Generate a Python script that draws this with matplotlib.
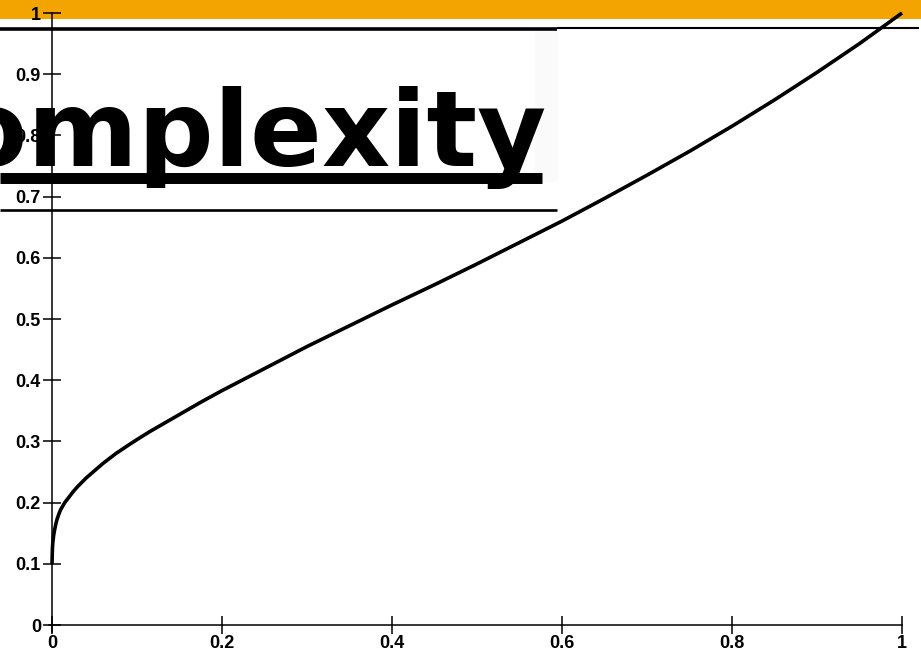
import matplotlib
matplotlib.use("Agg")
import matplotlib.pyplot as plt
from matplotlib.patches import Rectangle
from matplotlib.lines import Line2D

# Curve samples (x, y)
x_vals = [0.0, 0.0005, 0.001, 0.002, 0.003, 0.0045, 0.006, 0.008, 0.01, 0.0125,
          0.015, 0.02, 0.025, 0.03, 0.04, 0.05, 0.06, 0.075, 0.09, 0.1,
          0.115, 0.13, 0.15, 0.175, 0.2, 0.225, 0.25, 0.275, 0.3, 0.325,
          0.35, 0.375, 0.4, 0.45, 0.5, 0.55, 0.6, 0.65, 0.7, 0.75,
          0.8, 0.85, 0.9, 0.95, 1.0]
y_vals = [0.1, 0.125, 0.135, 0.147, 0.155, 0.165, 0.173, 0.181, 0.188, 0.194,
          0.2, 0.209, 0.218, 0.226, 0.24, 0.252, 0.264, 0.28, 0.294, 0.303,
          0.316, 0.328, 0.344, 0.364, 0.383, 0.401, 0.419, 0.437, 0.455, 0.472,
          0.489, 0.506, 0.523, 0.556, 0.59, 0.625, 0.66, 0.697, 0.735, 0.774,
          0.815, 0.858, 0.903, 0.95, 1.0]

x_ticks = [0, 0.2, 0.4, 0.6, 0.8, 1]
x_tick_labels = ["0", "0.2", "0.4", "0.6", "0.8", "1"]
y_ticks = [0, 0.1, 0.2, 0.3, 0.4, 0.5, 0.6, 0.7, 0.8, 0.9, 1]
y_tick_labels = ["0", "0.1", "0.2", "0.3", "0.4", "0.5", "0.6", "0.7", "0.8", "0.9", "1"]

title_text = "Complexity"

W, H = 921, 653
fig = plt.figure(figsize=(W / 100, H / 100), dpi=100)
fig.patch.set_facecolor("white")


def fx(px):
    return px / W


def fy(py):
    return 1 - py / H


# Orange header band
fig.add_artist(Rectangle((0, fy(19)), 1, 19 / H, transform=fig.transFigure,
                         facecolor="#F4A400", edgecolor="none", zorder=-5))

ax = fig.add_axes([fx(52), fy(625), 850 / W, 612 / H])
ax.patch.set_visible(False)
ax.plot(x_vals, y_vals, color="black", lw=2.6, solid_capstyle="butt",
        solid_joinstyle="round", clip_on=False, zorder=6)
ax.set_xlim(0, 1)
ax.set_ylim(0, 1)
for s in ("top", "right"):
    ax.spines[s].set_visible(False)
ax.spines["left"].set_bounds(-0.012, 1.0)
ax.spines["bottom"].set_bounds(-0.003, 1.0)
for s in ("left", "bottom"):
    ax.spines[s].set_linewidth(1.1)
ax.set_xticks(x_ticks, x_tick_labels)
ax.set_yticks(y_ticks, y_tick_labels)
for lab in ax.get_xticklabels() + ax.get_yticklabels():
    lab.set_fontfamily("Liberation Sans")
    lab.set_fontweight("bold")
    lab.set_fontsize(13)
ax.tick_params(axis="y", direction="inout", length=13.5, width=1.1, pad=1.2)
ax.tick_params(axis="x", direction="inout", length=12.5, width=1.1, pad=1.2)

# Title panel: rules, faint shading and large underlined word
fig.add_artist(Rectangle((fx(535), fy(182)), fx(23), (182 - 31) / H,
                         transform=fig.transFigure, facecolor="#fafafa",
                         edgecolor="none", zorder=1))
fig.add_artist(Line2D([0, fx(557)], [fy(29), fy(29)], transform=fig.transFigure,
                      color="black", lw=2.6, solid_capstyle="butt", zorder=5))
fig.add_artist(Line2D([fx(557), fx(919)], [fy(28.2), fy(28.2)], transform=fig.transFigure,
                      color="black", lw=1.5, solid_capstyle="butt", zorder=5))
fig.add_artist(Line2D([0, fx(557)], [fy(209.5), fy(209.5)], transform=fig.transFigure,
                      color="black", lw=1.9, solid_capstyle="butt", zorder=5))
fig.text(fx(-122.5), fy(166), title_text, fontsize=76.3, fontweight="bold",
         family="DejaVu Sans", va="baseline", ha="left", color="black", zorder=7)
fig.add_artist(Line2D([0, fx(542)], [fy(177.5), fy(177.5)], transform=fig.transFigure,
                      color="black", lw=7.9, solid_capstyle="butt", zorder=7))

fig.savefig("out.png", dpi=100)
